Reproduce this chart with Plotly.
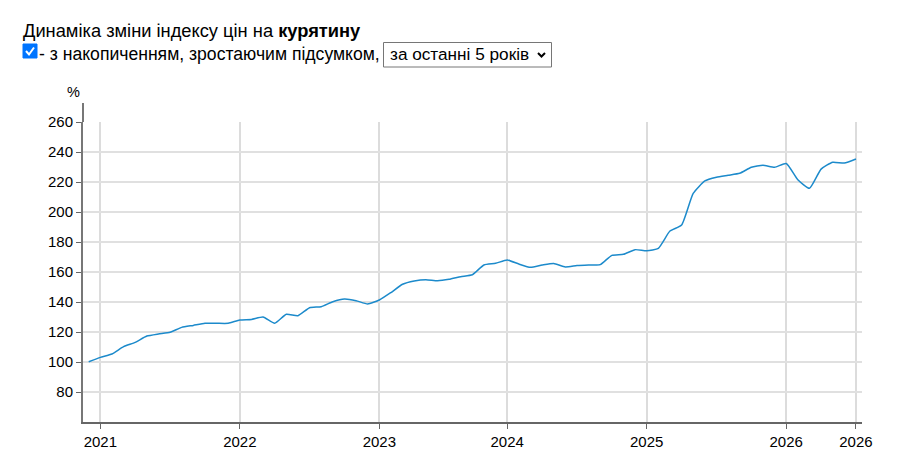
import plotly.graph_objects as go

# monthly cumulative price index for chicken (start = 100)
months = list(range(67))
index_values = [
    100.2, 103.1, 105.3, 110.2, 113.1, 117.3, 118.7, 119.8, 123.1, 124.4,
    125.8, 125.8, 125.8, 128.0, 128.4, 130.0, 125.8, 131.8, 130.9, 136.2,
    136.9, 140.2, 142.0, 140.9, 138.7, 141.3, 146.3, 151.8, 154.0, 154.9,
    154.2, 155.1, 156.9, 158.2, 164.7, 165.8, 168.0, 165.3, 163.1, 164.6,
    165.7, 163.4, 164.3, 164.7, 164.9, 171.1, 171.8, 174.9, 174.2, 175.8,
    187.3, 191.3, 212.4, 220.7, 223.2, 224.5, 225.8, 229.8, 231.2, 229.8,
    232.3, 221.5, 215.8, 228.6, 233.2, 232.6, 235.3,
]
tick_positions = [1, 13, 25, 36, 48, 60, 66]
tick_labels = ["2021", "2022", "2023", "2024", "2025", "2026", "2026"]
y_ticks = [80, 100, 120, 140, 160, 180, 200, 220, 240, 260]

W, H = 910, 471
L, R, T, B = 83, 862, 122, 422
FONT = "Arial, 'Liberation Sans', sans-serif"


def px(x):
    return (x - L) / (R - L)


def py(y):
    return (B - y) / (B - T)


fig = go.Figure()
fig.add_trace(go.Scatter(
    x=months, y=index_values, mode="lines",
    line=dict(color="#1c8acb", width=1.5, shape="spline", smoothing=0.5),
    hoverinfo="x+y", showlegend=False,
))

shapes = [
    # extension of the y axis line above the plot
    dict(type="line", xref="paper", yref="paper", x0=0, x1=0, y0=1, y1=py(103),
         line=dict(color="#777", width=2), layer="above"),
    # checkbox
    dict(type="rect", xref="paper", yref="paper", x0=px(23), x1=px(37),
         y0=py(58), y1=py(44), fillcolor="#0075ff", line=dict(color="#0075ff", width=1)),
    dict(type="path", xref="paper", yref="paper",
         path=f"M {px(26)} {py(51)} L {px(29)} {py(54.5)} L {px(34)} {py(47.5)}",
         line=dict(color="white", width=2)),
    # select box
    dict(type="rect", xref="paper", yref="paper", x0=px(383.5), x1=px(551.5),
         y0=py(67), y1=py(42.5), fillcolor="white", line=dict(color="#767676", width=1)),
    dict(type="path", xref="paper", yref="paper",
         path=f"M {px(538)} {py(53)} L {px(541.5)} {py(56.5)} L {px(545)} {py(53)}",
         line=dict(color="black", width=2)),
]

annotations = [
    dict(text="Динаміка зміни індексу цін на <b>курятину</b>", xref="paper", yref="paper",
         x=px(21), y=py(30), xanchor="left", yanchor="middle", showarrow=False,
         font=dict(family=FONT, size=18.3, color="black")),
    dict(text="- з накопиченням, зростаючим підсумком,", xref="paper", yref="paper",
         x=px(37), y=py(54), xanchor="left", yanchor="middle", showarrow=False,
         font=dict(family=FONT, size=17.6, color="black")),
    dict(text="за останні 5 років", xref="paper", yref="paper",
         x=px(388), y=py(54), xanchor="left", yanchor="middle", showarrow=False,
         font=dict(family=FONT, size=17.2, color="black")),
    dict(text="%", xref="paper", yref="paper",
         x=px(73), y=py(92), xanchor="center", yanchor="middle", showarrow=False,
         font=dict(family=FONT, size=14.5, color="black")),
]

fig.update_layout(
    width=W, height=H,
    margin=dict(l=L, r=W - R, t=T, b=H - B, pad=0),
    paper_bgcolor="white", plot_bgcolor="white",
    font=dict(family=FONT, size=15, color="black"),
    shapes=shapes, annotations=annotations,
    xaxis=dict(
        range=[-0.49, 66.52], tickmode="array", tickvals=tick_positions,
        ticktext=tick_labels, showgrid=True, gridcolor="#dcdcdc", gridwidth=1.5,
        showline=True, linecolor="#666", linewidth=2, ticks="outside",
        ticklen=5, tickcolor="#666", tickwidth=1, zeroline=False,
        tickfont=dict(size=15, color="black"),
    ),
    yaxis=dict(
        range=[60, 260], tickmode="array", tickvals=y_ticks,
        showgrid=True, gridcolor="#e0e0e0", gridwidth=2,
        showline=True, linecolor="#777", linewidth=2, ticks="outside",
        ticklen=5, tickcolor="#666", tickwidth=1, zeroline=False,
        tickfont=dict(size=15, color="black"),
    ),
)

fig.write_html("out.html")
